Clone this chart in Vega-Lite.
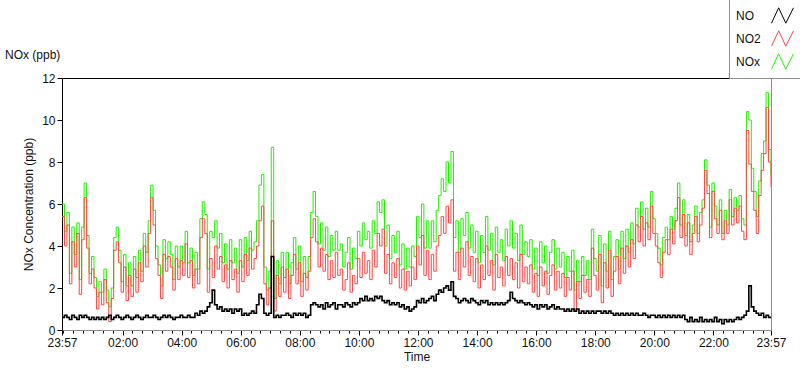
{
"$schema":"https://vega.github.io/schema/vega-lite/v6.json",
"width":709,"height":252,
"autosize":{"type":"none"},
"padding":{"left":62,"top":78,"right":29,"bottom":39},
"background":"white",
"title":{"text":"NOx (ppb)","anchor":"start","frame":"group","dx":-57,"dy":78,"offset":14,"fontSize":12,"font":"Liberation Sans","fontWeight":"normal","color":"#111"},
"data":{"values":[
{"m":0,"NO":0.6,"NO2":5.4,"NOx":6.0},{"m":5,"NO":0.7,"NO2":4.0,"NOx":4.7},{"m":10,"NO":0.6,"NO2":5.0,"NOx":5.6},{"m":15,"NO":0.5,"NO2":2.2,"NOx":2.7},{"m":20,"NO":0.7,"NO2":4.2,"NOx":4.9},{"m":25,"NO":0.6,"NO2":3.0,"NOx":3.6},{"m":30,"NO":0.5,"NO2":4.6,"NOx":5.1},{"m":35,"NO":0.7,"NO2":1.7,"NOx":2.4},{"m":40,"NO":0.6,"NO2":4.3,"NOx":4.9},{"m":45,"NO":0.7,"NO2":6.3,"NOx":7.0},
{"m":50,"NO":0.6,"NO2":3.9,"NOx":4.5},{"m":55,"NO":0.5,"NO2":2.2,"NOx":2.7},{"m":60,"NO":0.6,"NO2":2.9,"NOx":3.5},{"m":65,"NO":0.5,"NO2":2.0,"NOx":2.5},{"m":70,"NO":0.6,"NO2":1.0,"NOx":1.6},{"m":75,"NO":0.5,"NO2":1.8,"NOx":2.3},{"m":80,"NO":0.6,"NO2":1.2,"NOx":1.8},{"m":85,"NO":0.5,"NO2":2.4,"NOx":2.9},{"m":90,"NO":0.6,"NO2":1.3,"NOx":1.9},{"m":95,"NO":0.7,"NO2":0.4,"NOx":1.1},
{"m":100,"NO":0.5,"NO2":1.5,"NOx":2.0},{"m":105,"NO":0.6,"NO2":3.8,"NOx":4.4},{"m":110,"NO":0.7,"NO2":4.2,"NOx":4.9},{"m":115,"NO":0.6,"NO2":3.2,"NOx":3.8},{"m":120,"NO":0.5,"NO2":1.8,"NOx":2.3},{"m":125,"NO":0.6,"NO2":3.0,"NOx":3.6},{"m":130,"NO":0.7,"NO2":1.4,"NOx":2.1},{"m":135,"NO":0.6,"NO2":2.6,"NOx":3.2},{"m":140,"NO":0.5,"NO2":1.6,"NOx":2.1},{"m":145,"NO":0.6,"NO2":2.9,"NOx":3.5},
{"m":150,"NO":0.7,"NO2":1.8,"NOx":2.5},{"m":155,"NO":0.6,"NO2":3.2,"NOx":3.8},{"m":160,"NO":0.5,"NO2":2.3,"NOx":2.8},{"m":165,"NO":0.6,"NO2":4.0,"NOx":4.6},{"m":170,"NO":0.7,"NO2":3.0,"NOx":3.7},{"m":175,"NO":0.6,"NO2":4.6,"NOx":5.2},{"m":180,"NO":0.6,"NO2":6.3,"NOx":6.9},{"m":185,"NO":0.7,"NO2":5.0,"NOx":5.7},{"m":190,"NO":0.6,"NO2":3.4,"NOx":4.0},{"m":195,"NO":0.5,"NO2":2.6,"NOx":3.1},
{"m":200,"NO":0.6,"NO2":1.5,"NOx":2.1},{"m":205,"NO":0.7,"NO2":3.6,"NOx":4.3},{"m":210,"NO":0.6,"NO2":2.8,"NOx":3.4},{"m":215,"NO":0.7,"NO2":3.5,"NOx":4.2},{"m":220,"NO":0.6,"NO2":3.0,"NOx":3.6},{"m":225,"NO":0.5,"NO2":1.9,"NOx":2.4},{"m":230,"NO":0.6,"NO2":3.4,"NOx":4.0},{"m":235,"NO":0.6,"NO2":2.4,"NOx":3.0},{"m":240,"NO":0.7,"NO2":3.3,"NOx":4.0},{"m":245,"NO":0.6,"NO2":2.6,"NOx":3.2},
{"m":250,"NO":0.6,"NO2":4.1,"NOx":4.7},{"m":255,"NO":0.7,"NO2":2.5,"NOx":3.2},{"m":260,"NO":0.6,"NO2":3.3,"NOx":3.9},{"m":265,"NO":0.6,"NO2":2.0,"NOx":2.6},{"m":270,"NO":0.8,"NO2":2.9,"NOx":3.7},{"m":275,"NO":0.7,"NO2":2.2,"NOx":2.9},{"m":280,"NO":0.9,"NO2":4.4,"NOx":5.3},{"m":285,"NO":0.8,"NO2":5.3,"NOx":6.1},{"m":290,"NO":0.9,"NO2":4.6,"NOx":5.5},{"m":295,"NO":1.1,"NO2":1.8,"NOx":2.9},
{"m":300,"NO":1.3,"NO2":3.4,"NOx":4.7},{"m":305,"NO":1.9,"NO2":2.5,"NOx":4.4},{"m":310,"NO":1.2,"NO2":4.0,"NOx":5.2},{"m":315,"NO":1.0,"NO2":2.9,"NOx":3.9},{"m":320,"NO":1.1,"NO2":3.5,"NOx":4.6},{"m":325,"NO":0.9,"NO2":2.3,"NOx":3.2},{"m":330,"NO":1.0,"NO2":3.1,"NOx":4.1},{"m":335,"NO":0.9,"NO2":2.0,"NOx":2.9},{"m":340,"NO":1.0,"NO2":3.3,"NOx":4.3},{"m":345,"NO":0.8,"NO2":2.4,"NOx":3.2},
{"m":350,"NO":1.0,"NO2":2.9,"NOx":3.9},{"m":355,"NO":0.9,"NO2":1.8,"NOx":2.7},{"m":360,"NO":1.0,"NO2":3.3,"NOx":4.3},{"m":365,"NO":0.7,"NO2":2.3,"NOx":3.0},{"m":370,"NO":0.8,"NO2":3.6,"NOx":4.4},{"m":375,"NO":0.7,"NO2":2.6,"NOx":3.3},{"m":380,"NO":0.8,"NO2":3.9,"NOx":4.7},{"m":385,"NO":0.9,"NO2":2.9,"NOx":3.8},{"m":390,"NO":0.8,"NO2":3.4,"NOx":4.2},{"m":395,"NO":1.2,"NO2":4.0,"NOx":5.2},
{"m":400,"NO":1.7,"NO2":5.2,"NOx":6.9},{"m":405,"NO":1.5,"NO2":5.9,"NOx":7.4},{"m":410,"NO":0.8,"NO2":2.2,"NOx":3.0},{"m":415,"NO":0.7,"NO2":1.2,"NOx":1.9},{"m":420,"NO":0.8,"NO2":2.0,"NOx":2.8},{"m":425,"NO":3.5,"NO2":5.2,"NOx":8.7},{"m":430,"NO":0.6,"NO2":0.9,"NOx":1.5},{"m":435,"NO":0.7,"NO2":2.6,"NOx":3.3},{"m":440,"NO":0.6,"NO2":1.6,"NOx":2.2},{"m":445,"NO":0.7,"NO2":3.0,"NOx":3.7},
{"m":450,"NO":0.7,"NO2":1.8,"NOx":2.5},{"m":455,"NO":0.8,"NO2":2.9,"NOx":3.7},{"m":460,"NO":0.7,"NO2":1.5,"NOx":2.2},{"m":465,"NO":0.6,"NO2":2.6,"NOx":3.2},{"m":470,"NO":0.8,"NO2":3.6,"NOx":4.4},{"m":475,"NO":0.7,"NO2":2.2,"NOx":2.9},{"m":480,"NO":0.8,"NO2":3.2,"NOx":4.0},{"m":485,"NO":0.7,"NO2":1.6,"NOx":2.3},{"m":490,"NO":0.8,"NO2":2.7,"NOx":3.5},{"m":495,"NO":0.6,"NO2":1.9,"NOx":2.5},
{"m":500,"NO":0.7,"NO2":2.8,"NOx":3.5},{"m":505,"NO":1.2,"NO2":4.4,"NOx":5.6},{"m":510,"NO":1.3,"NO2":5.3,"NOx":6.6},{"m":515,"NO":1.2,"NO2":4.2,"NOx":5.4},{"m":520,"NO":1.1,"NO2":3.0,"NOx":4.1},{"m":525,"NO":1.2,"NO2":3.9,"NOx":5.1},{"m":530,"NO":1.0,"NO2":2.8,"NOx":3.8},{"m":535,"NO":1.3,"NO2":3.6,"NOx":4.9},{"m":540,"NO":1.1,"NO2":2.4,"NOx":3.5},{"m":545,"NO":1.2,"NO2":3.3,"NOx":4.5},
{"m":550,"NO":1.3,"NO2":2.5,"NOx":3.8},{"m":555,"NO":1.0,"NO2":3.7,"NOx":4.7},{"m":560,"NO":1.2,"NO2":2.6,"NOx":3.8},{"m":565,"NO":1.2,"NO2":2.9,"NOx":4.1},{"m":570,"NO":1.1,"NO2":1.9,"NOx":3.0},{"m":575,"NO":1.3,"NO2":2.4,"NOx":3.7},{"m":580,"NO":1.2,"NO2":3.2,"NOx":4.4},{"m":585,"NO":1.1,"NO2":1.8,"NOx":2.9},{"m":590,"NO":1.3,"NO2":2.6,"NOx":3.9},{"m":595,"NO":1.2,"NO2":2.2,"NOx":3.4},
{"m":600,"NO":1.3,"NO2":3.4,"NOx":4.7},{"m":605,"NO":1.5,"NO2":2.5,"NOx":4.0},{"m":610,"NO":1.4,"NO2":3.7,"NOx":5.1},{"m":615,"NO":1.6,"NO2":2.7,"NOx":4.3},{"m":620,"NO":1.4,"NO2":3.3,"NOx":4.7},{"m":625,"NO":1.5,"NO2":2.4,"NOx":3.9},{"m":630,"NO":1.4,"NO2":3.8,"NOx":5.2},{"m":635,"NO":1.6,"NO2":3.0,"NOx":4.6},{"m":640,"NO":1.5,"NO2":4.6,"NOx":6.1},{"m":645,"NO":1.6,"NO2":4.0,"NOx":5.6},
{"m":650,"NO":1.4,"NO2":4.8,"NOx":6.2},{"m":655,"NO":1.3,"NO2":2.7,"NOx":4.0},{"m":660,"NO":1.4,"NO2":3.6,"NOx":5.0},{"m":665,"NO":1.2,"NO2":2.2,"NOx":3.4},{"m":670,"NO":1.3,"NO2":3.2,"NOx":4.5},{"m":675,"NO":1.2,"NO2":2.5,"NOx":3.7},{"m":680,"NO":1.3,"NO2":3.4,"NOx":4.7},{"m":685,"NO":1.1,"NO2":2.0,"NOx":3.1},{"m":690,"NO":1.2,"NO2":2.9,"NOx":4.1},{"m":695,"NO":1.0,"NO2":1.9,"NOx":2.9},
{"m":700,"NO":1.1,"NO2":2.8,"NOx":3.9},{"m":705,"NO":0.9,"NO2":2.1,"NOx":3.0},{"m":710,"NO":1.0,"NO2":3.0,"NOx":4.0},{"m":715,"NO":1.1,"NO2":2.4,"NOx":3.5},{"m":720,"NO":1.4,"NO2":4.0,"NOx":5.4},{"m":725,"NO":1.3,"NO2":3.1,"NOx":4.4},{"m":730,"NO":1.5,"NO2":4.5,"NOx":6.0},{"m":735,"NO":1.3,"NO2":2.6,"NOx":3.9},{"m":740,"NO":1.4,"NO2":3.8,"NOx":5.2},{"m":745,"NO":1.5,"NO2":2.4,"NOx":3.9},
{"m":750,"NO":1.6,"NO2":3.6,"NOx":5.2},{"m":755,"NO":1.4,"NO2":2.8,"NOx":4.2},{"m":760,"NO":1.7,"NO2":4.0,"NOx":5.7},{"m":765,"NO":1.9,"NO2":4.5,"NOx":6.4},{"m":770,"NO":1.8,"NO2":5.4,"NOx":7.2},{"m":775,"NO":2.0,"NO2":4.6,"NOx":6.6},{"m":780,"NO":2.1,"NO2":5.9,"NOx":8.0},{"m":785,"NO":1.9,"NO2":5.1,"NOx":7.0},{"m":790,"NO":2.3,"NO2":6.2,"NOx":8.5},{"m":795,"NO":1.6,"NO2":2.8,"NOx":4.4},
{"m":800,"NO":1.5,"NO2":3.7,"NOx":5.2},{"m":805,"NO":1.3,"NO2":2.4,"NOx":3.7},{"m":810,"NO":1.4,"NO2":3.9,"NOx":5.3},{"m":815,"NO":1.5,"NO2":3.0,"NOx":4.5},{"m":820,"NO":1.4,"NO2":4.2,"NOx":5.6},{"m":825,"NO":1.3,"NO2":2.6,"NOx":3.9},{"m":830,"NO":1.5,"NO2":3.5,"NOx":5.0},{"m":835,"NO":1.4,"NO2":2.3,"NOx":3.7},{"m":840,"NO":1.3,"NO2":3.4,"NOx":4.7},{"m":845,"NO":1.2,"NO2":2.0,"NOx":3.2},
{"m":850,"NO":1.4,"NO2":3.1,"NOx":4.5},{"m":855,"NO":1.3,"NO2":2.4,"NOx":3.7},{"m":860,"NO":1.4,"NO2":4.0,"NOx":5.4},{"m":865,"NO":1.2,"NO2":2.6,"NOx":3.8},{"m":870,"NO":1.3,"NO2":3.3,"NOx":4.6},{"m":875,"NO":1.2,"NO2":1.9,"NOx":3.1},{"m":880,"NO":1.3,"NO2":3.6,"NOx":4.9},{"m":885,"NO":1.2,"NO2":2.5,"NOx":3.7},{"m":890,"NO":1.3,"NO2":3.0,"NOx":4.3},{"m":895,"NO":1.2,"NO2":2.1,"NOx":3.3},
{"m":900,"NO":1.3,"NO2":3.5,"NOx":4.8},{"m":905,"NO":1.4,"NO2":2.6,"NOx":4.0},{"m":910,"NO":1.8,"NO2":3.4,"NOx":5.2},{"m":915,"NO":1.5,"NO2":2.4,"NOx":3.9},{"m":920,"NO":1.4,"NO2":3.2,"NOx":4.6},{"m":925,"NO":1.3,"NO2":2.0,"NOx":3.3},{"m":930,"NO":1.4,"NO2":3.6,"NOx":5.0},{"m":935,"NO":1.3,"NO2":2.3,"NOx":3.6},{"m":940,"NO":1.2,"NO2":3.0,"NOx":4.2},{"m":945,"NO":1.3,"NO2":2.2,"NOx":3.5},
{"m":950,"NO":1.2,"NO2":3.1,"NOx":4.3},{"m":955,"NO":1.1,"NO2":1.8,"NOx":2.9},{"m":960,"NO":1.2,"NO2":2.7,"NOx":3.9},{"m":965,"NO":1.0,"NO2":1.6,"NOx":2.6},{"m":970,"NO":1.2,"NO2":3.0,"NOx":4.2},{"m":975,"NO":1.1,"NO2":2.1,"NOx":3.2},{"m":980,"NO":1.2,"NO2":2.8,"NOx":4.0},{"m":985,"NO":1.0,"NO2":1.7,"NOx":2.7},{"m":990,"NO":1.1,"NO2":2.6,"NOx":3.7},{"m":995,"NO":1.2,"NO2":3.1,"NOx":4.3},
{"m":1000,"NO":1.0,"NO2":1.9,"NOx":2.9},{"m":1005,"NO":1.1,"NO2":2.8,"NOx":3.9},{"m":1010,"NO":1.0,"NO2":2.0,"NOx":3.0},{"m":1015,"NO":1.0,"NO2":2.7,"NOx":3.7},{"m":1020,"NO":0.9,"NO2":1.6,"NOx":2.5},{"m":1025,"NO":1.0,"NO2":2.5,"NOx":3.5},{"m":1030,"NO":0.9,"NO2":1.9,"NOx":2.8},{"m":1035,"NO":1.0,"NO2":2.8,"NOx":3.8},{"m":1040,"NO":0.9,"NO2":1.0,"NOx":1.9},{"m":1045,"NO":1.0,"NO2":2.3,"NOx":3.3},
{"m":1050,"NO":0.8,"NO2":1.5,"NOx":2.3},{"m":1055,"NO":0.9,"NO2":2.6,"NOx":3.5},{"m":1060,"NO":0.8,"NO2":1.8,"NOx":2.6},{"m":1065,"NO":0.9,"NO2":2.4,"NOx":3.3},{"m":1070,"NO":0.8,"NO2":1.6,"NOx":2.4},{"m":1075,"NO":0.9,"NO2":3.9,"NOx":4.8},{"m":1080,"NO":0.8,"NO2":2.6,"NOx":3.4},{"m":1085,"NO":0.9,"NO2":1.9,"NOx":2.8},{"m":1090,"NO":0.9,"NO2":3.6,"NOx":4.5},{"m":1095,"NO":0.8,"NO2":1.3,"NOx":2.1},
{"m":1100,"NO":0.9,"NO2":3.2,"NOx":4.1},{"m":1105,"NO":0.8,"NO2":2.0,"NOx":2.8},{"m":1110,"NO":0.9,"NO2":3.8,"NOx":4.7},{"m":1115,"NO":0.8,"NO2":1.6,"NOx":2.4},{"m":1120,"NO":0.7,"NO2":2.8,"NOx":3.5},{"m":1125,"NO":0.8,"NO2":3.5,"NOx":4.3},{"m":1130,"NO":0.7,"NO2":2.2,"NOx":2.9},{"m":1135,"NO":0.8,"NO2":3.9,"NOx":4.7},{"m":1140,"NO":0.7,"NO2":2.7,"NOx":3.4},{"m":1145,"NO":0.8,"NO2":4.0,"NOx":4.8},
{"m":1150,"NO":0.7,"NO2":3.0,"NOx":3.7},{"m":1155,"NO":0.8,"NO2":4.3,"NOx":5.1},{"m":1160,"NO":0.7,"NO2":3.4,"NOx":4.1},{"m":1165,"NO":0.8,"NO2":5.0,"NOx":5.8},{"m":1170,"NO":0.7,"NO2":4.2,"NOx":4.9},{"m":1175,"NO":0.7,"NO2":5.4,"NOx":6.1},{"m":1180,"NO":0.8,"NO2":4.0,"NOx":4.8},{"m":1185,"NO":0.7,"NO2":5.1,"NOx":5.8},{"m":1190,"NO":0.6,"NO2":4.3,"NOx":4.9},{"m":1195,"NO":0.7,"NO2":5.9,"NOx":6.6},
{"m":1200,"NO":0.7,"NO2":4.6,"NOx":5.3},{"m":1205,"NO":0.6,"NO2":4.0,"NOx":4.6},{"m":1210,"NO":0.7,"NO2":3.2,"NOx":3.9},{"m":1215,"NO":0.6,"NO2":2.5,"NOx":3.1},{"m":1220,"NO":0.7,"NO2":3.7,"NOx":4.4},{"m":1225,"NO":0.6,"NO2":4.3,"NOx":4.9},{"m":1230,"NO":0.7,"NO2":3.6,"NOx":4.3},{"m":1235,"NO":0.6,"NO2":4.8,"NOx":5.4},{"m":1240,"NO":0.7,"NO2":4.1,"NOx":4.8},{"m":1245,"NO":0.6,"NO2":5.2,"NOx":5.8},
{"m":1250,"NO":0.7,"NO2":6.3,"NOx":7.0},{"m":1255,"NO":0.6,"NO2":4.4,"NOx":5.0},{"m":1260,"NO":0.7,"NO2":5.5,"NOx":6.2},{"m":1265,"NO":0.5,"NO2":4.0,"NOx":4.5},{"m":1270,"NO":0.4,"NO2":5.1,"NOx":5.5},{"m":1275,"NO":0.6,"NO2":3.6,"NOx":4.2},{"m":1280,"NO":0.4,"NO2":4.6,"NOx":5.0},{"m":1285,"NO":0.5,"NO2":5.4,"NOx":5.9},{"m":1290,"NO":0.4,"NO2":4.2,"NOx":4.6},{"m":1295,"NO":0.6,"NO2":5.0,"NOx":5.6},
{"m":1300,"NO":0.4,"NO2":5.8,"NOx":6.2},{"m":1305,"NO":0.5,"NO2":7.6,"NOx":8.1},{"m":1310,"NO":0.4,"NO2":6.5,"NOx":6.9},{"m":1315,"NO":0.5,"NO2":4.4,"NOx":4.9},{"m":1320,"NO":0.4,"NO2":6.6,"NOx":7.0},{"m":1325,"NO":0.6,"NO2":5.3,"NOx":5.9},{"m":1330,"NO":0.4,"NO2":4.6,"NOx":5.0},{"m":1335,"NO":0.5,"NO2":5.7,"NOx":6.2},{"m":1340,"NO":0.3,"NO2":4.3,"NOx":4.6},{"m":1345,"NO":0.5,"NO2":5.2,"NOx":5.7},
{"m":1350,"NO":0.4,"NO2":4.6,"NOx":5.0},{"m":1355,"NO":0.5,"NO2":6.2,"NOx":6.7},{"m":1360,"NO":0.4,"NO2":5.0,"NOx":5.4},{"m":1365,"NO":0.5,"NO2":5.8,"NOx":6.3},{"m":1370,"NO":0.6,"NO2":5.1,"NOx":5.7},{"m":1375,"NO":0.5,"NO2":5.9,"NOx":6.4},{"m":1380,"NO":0.6,"NO2":4.7,"NOx":5.3},{"m":1385,"NO":0.7,"NO2":4.3,"NOx":5.0},{"m":1390,"NO":0.9,"NO2":9.5,"NOx":10.4},{"m":1395,"NO":2.1,"NO2":7.9,"NOx":10.0},
{"m":1400,"NO":1.1,"NO2":6.6,"NOx":7.7},{"m":1405,"NO":0.9,"NO2":5.7,"NOx":6.6},{"m":1410,"NO":0.8,"NO2":4.6,"NOx":5.4},{"m":1415,"NO":0.7,"NO2":6.4,"NOx":7.1},{"m":1420,"NO":0.8,"NO2":7.6,"NOx":8.4},{"m":1425,"NO":0.6,"NO2":8.4,"NOx":9.0},{"m":1430,"NO":0.7,"NO2":10.6,"NOx":11.3},{"m":1435,"NO":0.6,"NO2":8.0,"NOx":8.6},{"m":1440,"NO":0.6,"NO2":6.8,"NOx":7.4}
]},
"layer":[
{"mark":{"type":"line","interpolate":"step-after","strokeWidth":1},
 "encoding":{
  "x":{"field":"m","type":"quantitative","scale":{"domain":[0,1440],"nice":false,"zero":false},
   "axis":{"orient":"bottom","values":[0,123,243,363,483,603,723,843,963,1083,1203,1323,1440],"labelExpr":"utcFormat((datum.value+1437)*60000,'%H:%M')","tickSize":5,"labelPadding":2,"labelFlush":false,"labelOverlap":false,"labelBound":false,"grid":false,"title":"Time","titlePadding":3,"domainColor":"#8c8c8c","tickColor":"#000"}},
  "y":{"field":"NOx","type":"quantitative","scale":{"domain":[0,12],"nice":false,"zero":true},
   "axis":{"values":[0,1,2,3,4,5,6,7,8,9,10,11,12],"labelOverlap":false,"tickSize":5,"labelPadding":2,"grid":false,"domainColor":"#000","tickColor":"#000","titlePadding":6},
   "title":"NOx Concentration (ppb)"},
  "color":{"datum":"NOx","type":"nominal","scale":{"domain":["NO","NO2","NOx"],"range":["#000000","#ff4646","#22ee00"]},
   "legend":{"orient":"none","legendX":667,"legendY":-80,"title":null,"symbolType":"M-1,0.7L-0.35,-0.7L0.3,0.7L1,-0.7","symbolSize":484,"symbolStrokeWidth":1,"symbolOffset":36,"labelAlign":"left","labelOffset":-58,"rowPadding":1,"padding":6,"strokeColor":"#8c8c8c","fillColor":"#ffffff"}}
 }},
{"mark":{"type":"line","interpolate":"step-after","strokeWidth":1},
 "encoding":{
  "x":{"field":"m","type":"quantitative",
   "axis":{"orient":"bottom","values":[3,23,43,63,83,103,123,143,163,183,203,223,243,263,283,303,323,343,363,383,403,423,443,463,483,503,523,543,563,583,603,623,643,663,683,703,723,743,763,783,803,823,843,863,883,903,923,943,963,983,1003,1023,1043,1063,1083,1103,1123,1143,1163,1183,1203,1223,1243,1263,1283,1303,1323,1343,1363,1383,1403,1423],"labels":false,"tickSize":3,"grid":false,"title":null,"domainColor":"#8c8c8c","tickColor":"#000"}},
  "y":{"field":"NO2","type":"quantitative","title":"NOx Concentration (ppb)"},
  "color":{"datum":"NO2","type":"nominal"}
 }},
{"mark":{"type":"line","interpolate":"step-after","strokeWidth":1.6},
 "encoding":{
  "x":{"field":"m","type":"quantitative",
   "axis":{"orient":"top","labels":false,"ticks":false,"grid":false,"title":null,"domainColor":"#000"}},
  "y":{"field":"NO","type":"quantitative","title":"NOx Concentration (ppb)"},
  "color":{"datum":"NO","type":"nominal"}
 }}
],
"resolve":{"axis":{"x":"independent"}},
"config":{
 "view":{"stroke":"#8c8c8c"},
 "font":"Liberation Sans",
 "axis":{"labelFont":"Liberation Sans","labelFontSize":12,"labelColor":"#111","titleFont":"Liberation Sans","titleFontSize":12,"titleFontWeight":"normal","titleColor":"#111"},
 "legend":{"labelFont":"Liberation Sans","labelFontSize":12,"labelColor":"#111"}
}
}
